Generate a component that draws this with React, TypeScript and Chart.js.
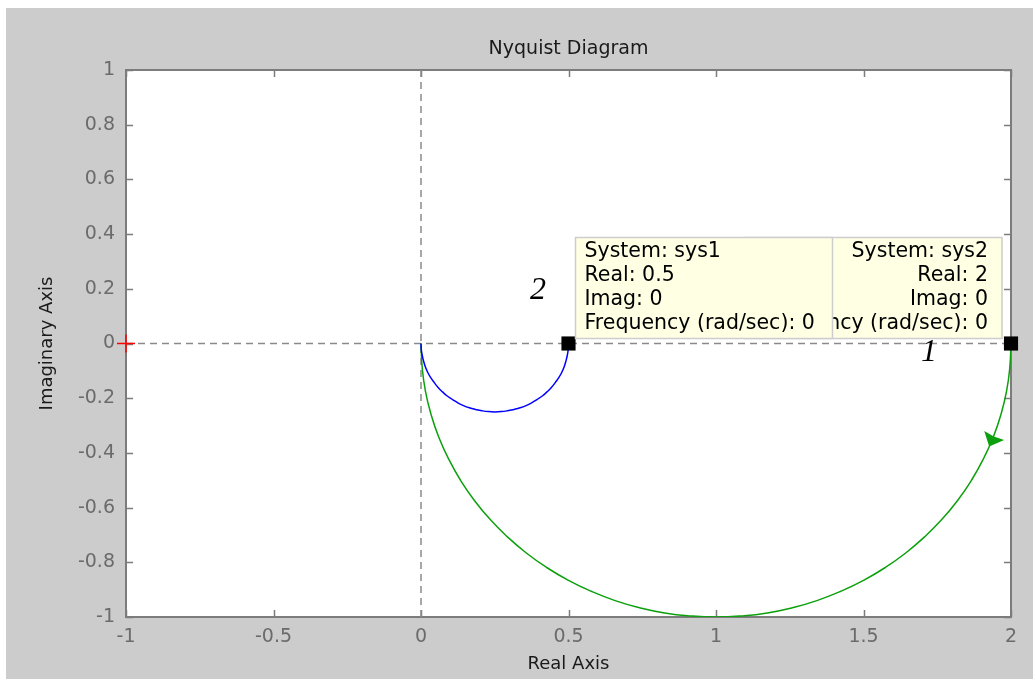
import React, { useEffect, useRef } from 'react';
import { Chart, registerables } from 'chart.js';

Chart.register(...registerables);

// ---- data ----
const SYS1_REAL = [0.5, 0.499, 0.496, 0.491, 0.485, 0.477, 0.467, 0.455, 0.442, 0.427, 0.411, 0.393, 0.375, 0.356, 0.336, 0.315, 0.293, 0.272, 0.25, 0.228, 0.207, 0.185, 0.164, 0.144, 0.125, 0.107, 0.089, 0.073, 0.058, 0.045, 0.033, 0.023, 0.015, 0.009, 0.004, 0.001, 0];
const SYS1_IMAG = [0, -0.022, -0.043, -0.065, -0.086, -0.106, -0.125, -0.143, -0.161, -0.177, -0.192, -0.205, -0.217, -0.227, -0.235, -0.241, -0.246, -0.249, -0.25, -0.249, -0.246, -0.241, -0.235, -0.227, -0.217, -0.205, -0.192, -0.177, -0.161, -0.143, -0.125, -0.106, -0.086, -0.065, -0.043, -0.022, 0];
const SYS2_REAL = [2, 1.996, 1.985, 1.966, 1.94, 1.906, 1.866, 1.819, 1.766, 1.707, 1.643, 1.574, 1.5, 1.423, 1.342, 1.259, 1.174, 1.087, 1, 0.913, 0.826, 0.741, 0.658, 0.577, 0.5, 0.426, 0.357, 0.293, 0.234, 0.181, 0.134, 0.094, 0.06, 0.034, 0.015, 0.004, 0];
const SYS2_IMAG = [0, -0.087, -0.174, -0.259, -0.342, -0.423, -0.5, -0.574, -0.643, -0.707, -0.766, -0.819, -0.866, -0.906, -0.94, -0.966, -0.985, -0.996, -1, -0.996, -0.985, -0.966, -0.94, -0.906, -0.866, -0.819, -0.766, -0.707, -0.643, -0.574, -0.5, -0.423, -0.342, -0.259, -0.174, -0.087, 0];

const X_TICKS = [-1, -0.5, 0, 0.5, 1, 1.5, 2];
const Y_TICKS = [-1, -0.8, -0.6, -0.4, -0.2, 0, 0.2, 0.4, 0.6, 0.8, 1];
const X_RANGE = [-1, 2];
const Y_RANGE = [-1, 1];

const CRITICAL_POINT = [-1, 0];
const MARKED_POINTS = [[0.5, 0], [2, 0]];

const TIP_SYSTEMS = ['sys1', 'sys2'];
const TIP_REAL = ['0.5', '2'];
const TIP_IMAG = ['0', '0'];
const TIP_FREQ = ['0', '0'];

const CURVE_LABEL_TEXT = ['2', '1'];
const CURVE_LABEL_X = [0.397, 1.722];
const CURVE_LABEL_Y = [0.192, -0.035];

const ARROW_AT = [1.936, -0.353];
const ARROW_TOWARD = [1.903, -0.43];

const TITLE = 'Nyquist Diagram';
const X_TITLE = 'Real Axis';
const Y_TITLE = 'Imaginary Axis';

const FONT = '"DejaVu Sans", "Liberation Sans", Arial, sans-serif';
const GREEN = '#0ca00c';

const toXY = (xs: number[], ys: number[]) => xs.map((x, i) => ({ x, y: ys[i] }));

const decorPlugin = {
  id: 'decor',
  beforeDraw(chart: any) {
    const { ctx, chartArea: a } = chart;
    ctx.save();
    ctx.fillStyle = '#cccccc';
    ctx.fillRect(0, 0, chart.width, chart.height);
    ctx.fillStyle = '#ffffff';
    ctx.fillRect(a.left, a.top, a.right - a.left, a.bottom - a.top);
    ctx.restore();
  },
  beforeDatasetsDraw(chart: any) {
    const { ctx, chartArea: a } = chart;
    const xs = chart.scales.x;
    const ys = chart.scales.y;
    ctx.save();
    ctx.strokeStyle = '#7c7c7c';
    ctx.lineWidth = 1.5;
    ctx.beginPath();
    X_TICKS.forEach((v) => {
      const px = Math.round(xs.getPixelForValue(v)) + 0.5;
      ctx.moveTo(px, a.bottom);
      ctx.lineTo(px, a.bottom - 7);
      ctx.moveTo(px, a.top);
      ctx.lineTo(px, a.top + 7);
    });
    Y_TICKS.forEach((v) => {
      const py = Math.round(ys.getPixelForValue(v)) + 0.5;
      ctx.moveTo(a.left, py);
      ctx.lineTo(a.left + 7, py);
      ctx.moveTo(a.right, py);
      ctx.lineTo(a.right - 7, py);
    });
    ctx.stroke();
    ctx.lineWidth = 2;
    ctx.strokeRect(a.left, a.top, a.right - a.left, a.bottom - a.top);
    ctx.restore();
  },
  afterDatasetsDraw(chart: any) {
    const { ctx } = chart;
    const xs = chart.scales.x;
    const ys = chart.scales.y;
    ctx.save();

    // direction arrow on sys2 curve
    const ax = xs.getPixelForValue(ARROW_AT[0]);
    const ay = ys.getPixelForValue(ARROW_AT[1]);
    const tx = xs.getPixelForValue(ARROW_TOWARD[0]);
    const ty = ys.getPixelForValue(ARROW_TOWARD[1]);
    let dx = tx - ax;
    let dy = ty - ay;
    const len = Math.hypot(dx, dy);
    dx /= len;
    dy /= len;
    const nx = -dy;
    const ny = dx;
    ctx.fillStyle = GREEN;
    ctx.beginPath();
    ctx.moveTo(ax + dx * 7, ay + dy * 7);
    ctx.lineTo(ax - dx * 5 + nx * 11, ay - dy * 5 + ny * 11);
    ctx.lineTo(ax - dx * 4, ay - dy * 4);
    ctx.lineTo(ax - dx * 5 - nx * 11, ay - dy * 5 - ny * 11);
    ctx.closePath();
    ctx.fill();

    // curve labels
    ctx.fillStyle = '#000000';
    ctx.font = 'italic 32px "Liberation Serif", "Times New Roman", serif';
    ctx.textAlign = 'center';
    ctx.textBaseline = 'middle';
    CURVE_LABEL_TEXT.forEach((t, i) => {
      ctx.fillText(t, xs.getPixelForValue(CURVE_LABEL_X[i]), ys.getPixelForValue(CURVE_LABEL_Y[i]));
    });

    // data tips (sys2 first, sys1 drawn over it)
    const boxW = 257;
    const boxH = 101;
    const drawTip = (i: number, left: number, top: number, alignRight: boolean) => {
      ctx.save();
      ctx.fillStyle = '#ffffe3';
      ctx.fillRect(left, top, boxW, boxH);
      ctx.strokeStyle = '#cdcdcd';
      ctx.lineWidth = 1.5;
      ctx.strokeRect(left, top, boxW, boxH);
      ctx.beginPath();
      ctx.rect(left + 1, top + 1, boxW - 2, boxH - 2);
      ctx.clip();
      ctx.fillStyle = '#000000';
      ctx.font = `20.5px ${FONT}`;
      ctx.textBaseline = 'middle';
      ctx.textAlign = alignRight ? 'right' : 'left';
      const lines = [
        `System: ${TIP_SYSTEMS[i]}`,
        `Real: ${TIP_REAL[i]}`,
        `Imag: ${TIP_IMAG[i]}`,
        `Frequency (rad/sec): ${TIP_FREQ[i]}`,
      ];
      const tx2 = alignRight ? left + boxW - 14 : left + 9;
      lines.forEach((l, k) => ctx.fillText(l, tx2, top + 14 + k * 24));
      ctx.restore();
    };
    const p2x = xs.getPixelForValue(MARKED_POINTS[1][0]);
    const p2y = ys.getPixelForValue(MARKED_POINTS[1][1]);
    drawTip(1, p2x - 9 - boxW, p2y - 5 - boxH, true);
    const p1x = xs.getPixelForValue(MARKED_POINTS[0][0]);
    const p1y = ys.getPixelForValue(MARKED_POINTS[0][1]);
    drawTip(0, p1x + 7, p1y - 5 - boxH, false);

    ctx.restore();
  },
};

export default function App() {
  const ref = useRef<HTMLCanvasElement>(null);
  useEffect(() => {
    const chart = new Chart(ref.current as HTMLCanvasElement, {
      type: 'line',
      data: {
        datasets: [
          {
            data: [{ x: X_RANGE[0], y: 0 }, { x: X_RANGE[1], y: 0 }],
            order: 10,
            borderColor: '#8a8a8a',
            borderWidth: 1.5,
            borderDash: [7, 5],
            pointRadius: 0,
            tension: 0,
          },
          {
            data: [{ x: 0, y: Y_RANGE[0] }, { x: 0, y: Y_RANGE[1] }],
            order: 9,
            borderColor: '#8a8a8a',
            borderWidth: 1.5,
            borderDash: [7, 5],
            pointRadius: 0,
            tension: 0,
          },
          {
            data: toXY(SYS2_REAL, SYS2_IMAG),
            order: 5,
            borderColor: GREEN,
            borderWidth: 1.5,
            tension: 0.5,
            pointRadius: 0,
          },
          {
            data: toXY(SYS1_REAL, SYS1_IMAG),
            order: 4,
            borderColor: '#0000ff',
            borderWidth: 1.5,
            tension: 0.5,
            pointRadius: 0,
          },
          {
            data: MARKED_POINTS.map(([x, y]) => ({ x, y })),
            order: 1,
            showLine: false,
            pointStyle: 'rect',
            pointRadius: 10,
            backgroundColor: '#000000',
            borderColor: '#000000',
            borderWidth: 0,
            clip: false,
          },
          {
            data: [{ x: CRITICAL_POINT[0], y: CRITICAL_POINT[1] }],
            order: 0,
            showLine: false,
            pointStyle: 'cross',
            pointRadius: 9,
            borderColor: '#ff0000',
            borderWidth: 1.5,
            clip: false,
          },
        ],
      },
      options: {
        responsive: false,
        animation: false,
        events: [],
        layout: { padding: { left: 0, right: 22, top: 0, bottom: 0 } },
        plugins: {
          legend: { display: false },
          tooltip: { enabled: false },
          title: {
            display: true,
            text: TITLE,
            fullSize: false,
            color: '#1a1a1a',
            font: { family: FONT, size: 19, weight: 'normal' },
            padding: { top: 30, bottom: 9.2 },
          },
        },
        scales: {
          x: {
            type: 'linear',
            min: X_RANGE[0],
            max: X_RANGE[1],
            grid: { display: false, drawTicks: false },
            border: { display: false },
            afterBuildTicks: (s: any) => {
              s.ticks = X_TICKS.map((value) => ({ value }));
            },
            afterFit: (s: any) => {
              s.height = 62;
            },
            ticks: {
              autoSkip: false,
              maxRotation: 0,
              padding: 9,
              color: '#6b6b6b',
              font: { family: FONT, size: 19 },
              callback: (v: any) => String(v),
            },
            title: {
              display: true,
              text: X_TITLE,
              color: '#1a1a1a',
              font: { family: FONT, size: 18 },
              padding: { top: 0, bottom: 4 },
            },
          },
          y: {
            type: 'linear',
            min: Y_RANGE[0],
            max: Y_RANGE[1],
            grid: { display: false, drawTicks: false },
            border: { display: false },
            afterBuildTicks: (s: any) => {
              s.ticks = Y_TICKS.map((value) => ({ value }));
            },
            afterFit: (s: any) => {
              s.width = 120;
            },
            ticks: {
              autoSkip: false,
              padding: 11,
              color: '#6b6b6b',
              font: { family: FONT, size: 19 },
              callback: (v: any) => String(v),
            },
            title: {
              display: true,
              text: Y_TITLE,
              color: '#1a1a1a',
              font: { family: FONT, size: 18 },
              padding: { top: 31, bottom: 0 },
            },
          },
        },
      },
      plugins: [decorPlugin],
    } as any);
    return () => chart.destroy();
  }, []);
  return (
    <div style={{ position: 'fixed', left: 6, top: 8, width: 1027, height: 671 }}>
      <canvas ref={ref} width={1027} height={671} style={{ display: 'block' }} />
    </div>
  );
}
